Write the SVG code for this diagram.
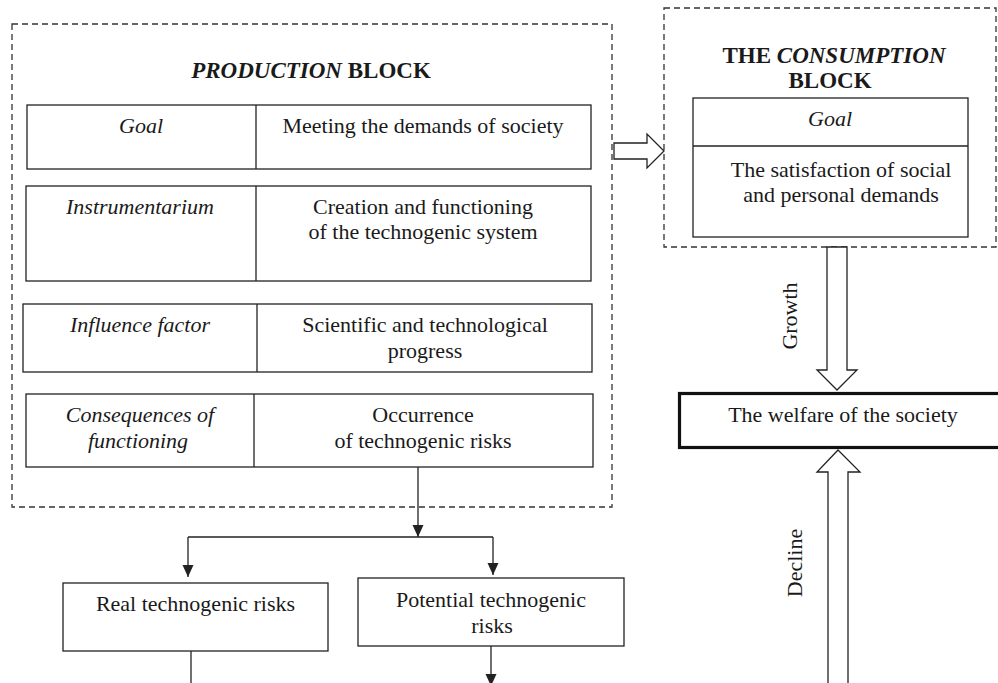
<svg xmlns="http://www.w3.org/2000/svg" width="998" height="683" viewBox="0 0 998 683" font-family="Liberation Serif, serif">
<style>
  text { font-family: 'Liberation Serif', 'Tinos', 'DejaVu Serif', serif; font-size: 22px; fill: #1a1a1a; }
  .it { font-style: italic; }
  .b { font-weight: bold; }
  .ttl { font-size: 23px; }
  .mid { text-anchor: middle; }
  .box { fill: #fff; stroke: #222; stroke-width: 1.3; }
  .dash { fill: none; stroke: #333; stroke-width: 1.3; stroke-dasharray: 6 4; }
  .ln { fill: none; stroke: #222; stroke-width: 1.3; }
  .hollow { fill: #fff; stroke: #222; stroke-width: 1.3; stroke-linejoin: miter; }
  .thick { fill: #fff; stroke: #111; stroke-width: 3.2; }
</style>
<defs>
  <marker id="ah" markerUnits="userSpaceOnUse" markerWidth="12" markerHeight="12" refX="12" refY="6" orient="auto">
    <path d="M0,0.5 L12,6 L0,11.5 z" fill="#222"/>
  </marker>
</defs>

<g id="production-block">
  <rect class="dash" x="12" y="24" width="600" height="483"/>
  <text class="mid ttl" x="311" y="78"><tspan class="b it">PRODUCTION</tspan><tspan class="b"> BLOCK</tspan></text>
</g>

<g id="row-goal">
  <rect class="box" x="27" y="105" width="564" height="64"/>
  <line class="ln" x1="256" y1="105" x2="256" y2="169"/>
  <text class="it mid" x="141" y="133">Goal</text>
  <text class="mid" x="423" y="133">Meeting the demands of society</text>
</g>

<g id="row-instrumentarium">
  <rect class="box" x="26" y="186" width="565" height="95"/>
  <line class="ln" x1="256" y1="186" x2="256" y2="281"/>
  <text class="it mid" x="140" y="214">Instrumentarium</text>
  <text class="mid" x="423" y="214">Creation and functioning</text>
  <text class="mid" x="423" y="239">of the technogenic system</text>
</g>

<g id="row-influence">
  <rect class="box" x="23" y="304" width="569" height="68"/>
  <line class="ln" x1="257" y1="304" x2="257" y2="372"/>
  <text class="it mid" x="140" y="332">Influence factor</text>
  <text class="mid" x="425" y="332">Scientific and technological</text>
  <text class="mid" x="425" y="358">progress</text>
</g>

<g id="row-consequences">
  <rect class="box" x="26" y="394" width="567" height="73"/>
  <line class="ln" x1="254" y1="394" x2="254" y2="467"/>
  <text class="it mid" x="140" y="422">Consequences of</text>
  <text class="it mid" x="138" y="448">functioning</text>
  <text class="mid" x="423" y="422">Occurrence</text>
  <text class="mid" x="423" y="448">of technogenic risks</text>
</g>

<g id="consumption-block">
  <rect class="dash" x="664" y="8" width="332" height="239"/>
  <text class="mid ttl" x="834" y="63"><tspan class="b">THE </tspan><tspan class="b it">CONSUMPTION</tspan></text>
  <text class="b mid ttl" x="830" y="88">BLOCK</text>
  <rect class="box" x="693" y="98" width="275" height="139"/>
  <line class="ln" x1="693" y1="146" x2="968" y2="146"/>
  <text class="it mid" x="830" y="126">Goal</text>
  <text class="mid" x="841" y="177">The satisfaction of social</text>
  <text class="mid" x="841" y="202">and personal demands</text>
</g>

<g id="welfare">
  <rect class="thick" x="679.5" y="393.5" width="340" height="54"/>
  <text class="mid" x="843" y="422">The welfare of the society</text>
</g>

<g id="real-risks">
  <rect class="box" x="63" y="583" width="265" height="68"/>
  <text class="mid" x="195.5" y="611">Real technogenic risks</text>
</g>

<g id="potential-risks">
  <rect class="box" x="358" y="578" width="266" height="68"/>
  <text class="mid" x="491" y="607">Potential technogenic</text>
  <text class="mid" x="492" y="633">risks</text>
</g>

<g id="connectors">
  <polygon class="hollow" points="614,143 647,143 647,134 664,151 647,168 647,159 614,159"/>
  <polygon class="hollow" points="827,247 847,247 847,370 857,370 837,390 817,370 827,370"/>
  <polygon class="hollow" points="838,450 860,472 848,472 848,690 828,690 828,472 817,472"/>
  <text class="mid" transform="translate(797,316) rotate(-90)" x="0" y="0">Growth</text>
  <text class="mid" transform="translate(802,563) rotate(-90)" x="0" y="0">Decline</text>
  <line class="ln" x1="418" y1="467" x2="418" y2="537" marker-end="url(#ah)"/>
  <line class="ln" x1="188" y1="537" x2="493" y2="537"/>
  <line class="ln" x1="188" y1="537" x2="188" y2="577" marker-end="url(#ah)"/>
  <line class="ln" x1="493" y1="537" x2="493" y2="575" marker-end="url(#ah)"/>
  <line class="ln" x1="191" y1="651" x2="191" y2="690"/>
  <line class="ln" x1="491" y1="646" x2="491" y2="686" marker-end="url(#ah)"/>
</g>
</svg>
